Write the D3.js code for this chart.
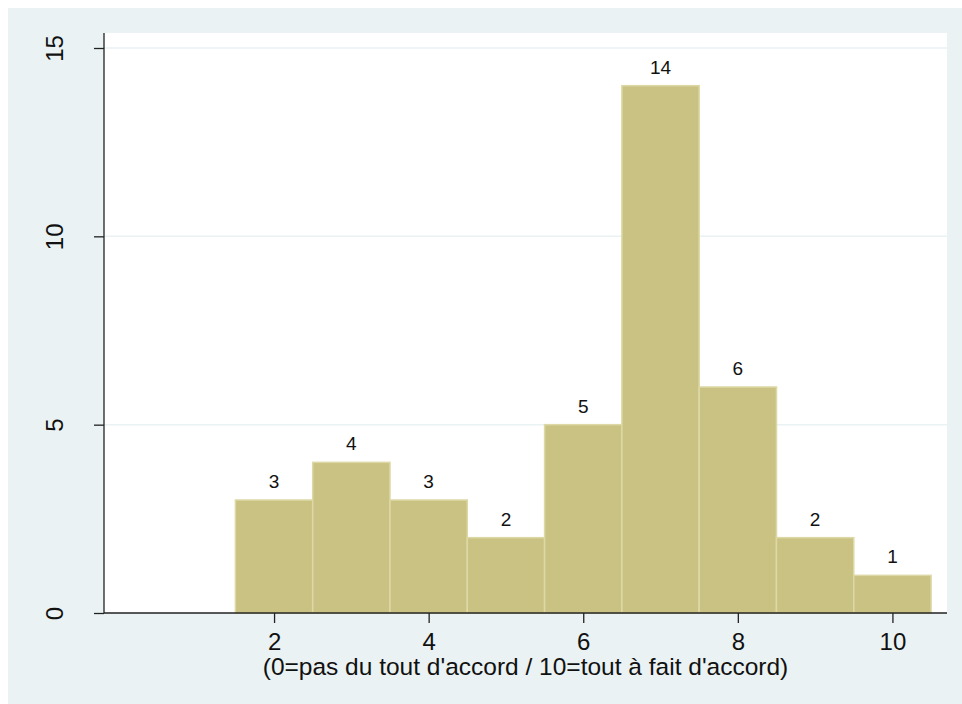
<!DOCTYPE html>
<html>
<head>
<meta charset="utf-8">
<script src="https://cdn.jsdelivr.net/npm/d3@7"></script>
<style>
  html, body { margin: 0; padding: 0; background: #ffffff; }
  svg { display: block; font-family: "Liberation Sans", Arial, Helvetica, sans-serif; }
</style>
</head>
<body>
<svg id="chart" width="962" height="704"></svg>
<script>
// Data
const categories = [2, 3, 4, 5, 6, 7, 8, 9, 10];
const counts = [3, 4, 3, 2, 5, 14, 6, 2, 1];
const xTicks = [2, 4, 6, 8, 10];
const yTicks = [0, 5, 10, 15];
const xTitle = "(0=pas du tout d'accord / 10=tout à fait d'accord)";

const svg = d3.select("#chart");
const W = 962, H = 704;

// outer background
svg.append("rect").attr("x", 8).attr("y", 8).attr("width", W - 8).attr("height", H - 8)
  .attr("fill", "#eaf2f3");

const plot = { left: 104, right: 947, top: 33, bottom: 613 };

svg.append("rect").attr("x", plot.left).attr("y", plot.top)
  .attr("width", plot.right - plot.left).attr("height", plot.bottom - plot.top)
  .attr("fill", "#ffffff");

const x = d3.scaleLinear().domain([-0.2, 10.706]).range([plot.left, plot.right]);
const y = d3.scaleLinear().domain([0, 15]).range([plot.bottom, 48]);

// gridlines
svg.append("g").selectAll("line").data(yTicks.filter(d => d > 0)).join("line")
  .attr("x1", plot.left).attr("x2", plot.right)
  .attr("y1", d => y(d)).attr("y2", d => y(d))
  .attr("stroke", "#eaf2f3").attr("stroke-width", 1.5);

// bars
svg.append("g").selectAll("rect").data(categories).join("rect")
  .attr("x", (d) => x(d - 0.5))
  .attr("width", (d) => x(d + 0.5) - x(d - 0.5))
  .attr("y", (d, i) => y(counts[i]))
  .attr("height", (d, i) => y(0) - y(counts[i]))
  .attr("fill", "#cac282")
  .attr("stroke", "#ddd8a6")
  .attr("stroke-width", 1.5);

// bar labels
svg.append("g").selectAll("text").data(categories).join("text")
  .attr("x", d => x(d))
  .attr("y", (d, i) => y(counts[i]) - 12)
  .attr("text-anchor", "middle")
  .attr("font-size", 19)
  .attr("fill", "#111")
  .text((d, i) => counts[i]);

// y axis
const yAxis = d3.axisLeft(y).tickValues(yTicks).tickSize(10).tickPadding(32).tickFormat(d3.format("d"));
const gy = svg.append("g").attr("transform", `translate(${plot.left},0)`).call(yAxis);
gy.select(".domain").attr("stroke", "#222").attr("stroke-width", 1.3)
  .attr("d", `M0,${plot.top}V${plot.bottom}`);
gy.selectAll(".tick line").attr("stroke", "#222").attr("stroke-width", 1.3);
gy.selectAll(".tick text")
  .attr("x", null).attr("dy", null)
  .attr("text-anchor", "middle")
  .attr("font-size", 24)
  .attr("font-family", "Liberation Sans, Arial, sans-serif")
  .attr("fill", "#111")
  .attr("transform", "translate(-41,0) rotate(-90)");

// x axis
const xAxis = d3.axisBottom(x).tickValues(xTicks).tickSize(10).tickPadding(10).tickFormat(d3.format("d"));
const gx = svg.append("g").attr("transform", `translate(0,${plot.bottom})`).call(xAxis);
gx.select(".domain").attr("stroke", "#222").attr("stroke-width", 1.3)
  .attr("d", `M${plot.left},0H${plot.right}`);
gx.selectAll(".tick line").attr("stroke", "#222").attr("stroke-width", 1.3);
gx.selectAll(".tick text")
  .attr("font-size", 24)
  .attr("font-family", "Liberation Sans, Arial, sans-serif")
  .attr("fill", "#111");

// x title
svg.append("text")
  .attr("x", 525.5)
  .attr("y", 675)
  .attr("text-anchor", "middle")
  .attr("font-size", 24.5)
  .attr("fill", "#111")
  .text(xTitle);
</script>
</body>
</html>
